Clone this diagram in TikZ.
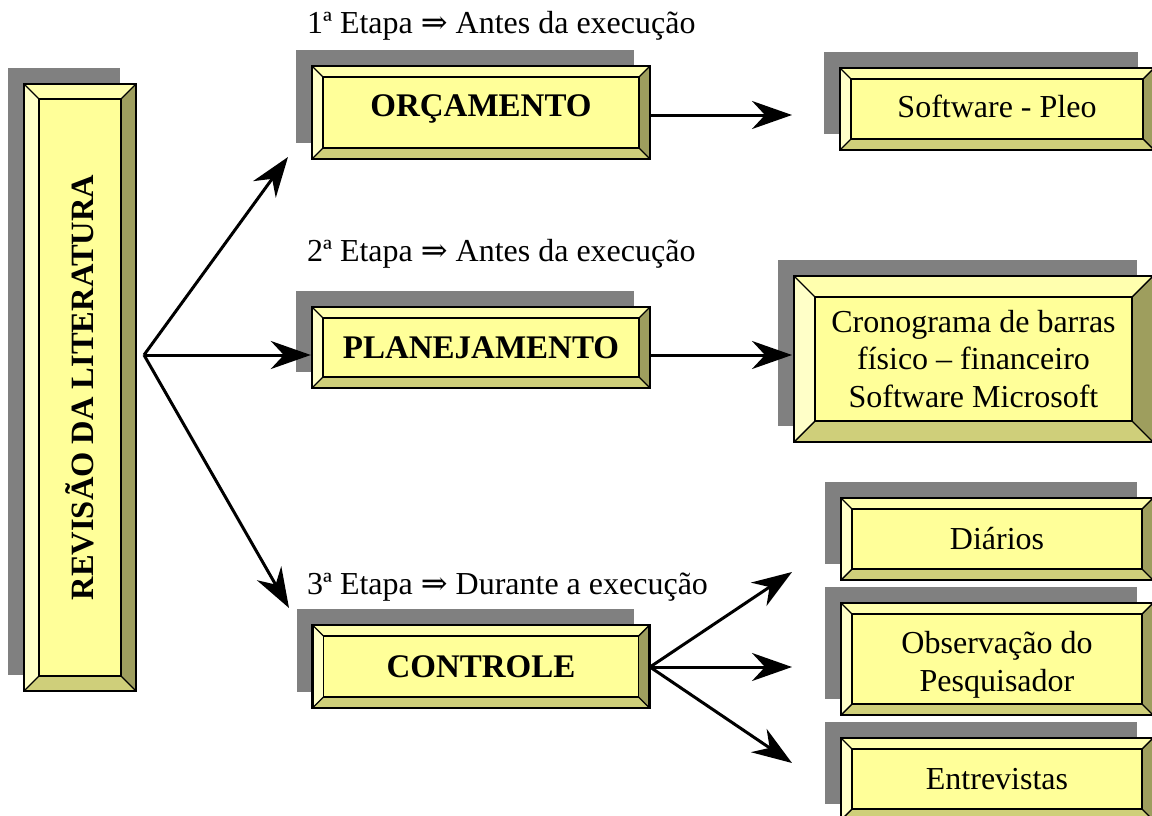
\documentclass[tikz,border=0pt]{standalone}
\usepackage{fontspec}
\setmainfont{Liberation Serif}
\newfontfamily\arrfont{DejaVu Serif}
\usetikzlibrary{arrows.meta,shadows}
\definecolor{cen}{HTML}{FFFF99}
\definecolor{bevtop}{HTML}{FFFFAE}
\definecolor{bevleft}{HTML}{FFFFC8}
\definecolor{bevright}{HTML}{9E9E5E}
\definecolor{bevbot}{HTML}{CFCF7A}
\definecolor{shgray}{HTML}{808080}
\newcommand{\imp}{{\arrfont ⇒}}
\newcommand{\shiftup}[2]{\raisebox{#1}[\height][\depth]{#2}}
\tikzset{
  bev/.style={draw=black, line width=2.4pt, fill=cen, inner sep=0pt, align=center,
    font=\fontsize{32}{37.5}\selectfont,
    drop shadow={shadow xshift=-16pt, shadow yshift=16pt, fill=shgray, opacity=1},
    path picture={
      \coordinate (A) at (path picture bounding box.north west);
      \coordinate (B) at (path picture bounding box.north east);
      \coordinate (C) at (path picture bounding box.south east);
      \coordinate (D) at (path picture bounding box.south west);
      \coordinate (a) at ([shift={(#1pt,-#1pt)}]path picture bounding box.north west);
      \coordinate (b) at ([shift={(-#1pt,-#1pt)}]path picture bounding box.north east);
      \coordinate (c) at ([shift={(-#1pt,#1pt)}]path picture bounding box.south east);
      \coordinate (d) at ([shift={(#1pt,#1pt)}]path picture bounding box.south west);
      \fill[bevtop] (A) -- (B) -- (b) -- (a) -- cycle;
      \fill[bevright] (B) -- (C) -- (c) -- (b) -- cycle;
      \fill[bevbot] (C) -- (D) -- (d) -- (c) -- cycle;
      \fill[bevleft] (D) -- (A) -- (a) -- (d) -- cycle;
      \draw[line width=1.4pt] (a) rectangle (c);
      \draw[line width=1.4pt] (A) -- (a) (B) -- (b) (C) -- (c) (D) -- (d);
    }},
  bold/.style={font=\fontsize{33}{38}\selectfont\bfseries},
  etapa/.style={anchor=base west, inner sep=0pt, font=\fontsize{32}{36}\selectfont},
  arr/.style={line width=3pt, -{Stealth[length=40pt, width=28pt, inset=13pt]}}
}
\begin{document}
\begin{tikzpicture}[x=1pt, y=-1pt]
\useasboundingbox (0,0) rectangle (1152,816);
\clip (0,0) rectangle (1152,816);

% left box
\node[bev=15, minimum width=112pt, minimum height=607pt] (rev) at (80,387.5)
  {\rotatebox{90}{\fontsize{32.5}{37}\selectfont\bfseries REVISÃO DA LITERATURA}};

% stage boxes
\node[bev=11, bold, minimum width=338pt, minimum height=93pt] (orc) at (481,112.5) {\shiftup{4pt}{ORÇAMENTO}};
\node[bev=11, bold, minimum width=338pt, minimum height=81pt] (plan) at (481,347.5) {PLANEJAMENTO};
\node[bev=11, bold, minimum width=337pt, minimum height=83pt] (ctrl) at (481,666.5) {CONTROLE};

% result boxes
\node[bev=11, minimum width=314pt, minimum height=82pt] (pleo) at (997,109) {\shiftup{3pt}{Software - Pleo}};
\node[bev=21, minimum width=359pt, minimum height=166pt] (crono) at (973.5,359)
  {\shiftup{-3pt}{\begin{tabular}{@{}c@{}}Cronograma de barras\\físico – financeiro\\Software Microsoft\end{tabular}}};
\node[bev=11, minimum width=312pt, minimum height=82pt] (diar) at (997,539) {Diários};
\node[bev=11, minimum width=312pt, minimum height=112pt] (obs) at (997,659)
  {\shiftup{-6pt}{\begin{tabular}{@{}c@{}}Observação do\\Pesquisador\end{tabular}}};
\node[bev=11, minimum width=312pt, minimum height=82pt] (entr) at (997,779) {Entrevistas};

% stage labels
\node[etapa] (e1) at (307,34) {1ª Etapa \imp{} Antes da execução};
\node[etapa] (e2) at (307,261) {2ª Etapa \imp{} Antes da execução};
\node[etapa] (e3) at (307,594) {3ª Etapa \imp{} Durante a execução};

% connectors
\coordinate (o) at (144,355);
\coordinate (t1) at (288,157);
\coordinate (t3) at (289,608);
\draw[arr] (o) -- (t1);
\draw[arr] (o) -- (plan.west |- o);
\draw[arr] (o) -- (t3);

\coordinate (q1) at (792,115);
\coordinate (q2) at (792,355);
\draw[arr] (orc.east |- q1) -- (q1);
\draw[arr] (plan.east |- q2) -- (q2);

\coordinate (c0) at (650,667);
\coordinate (r1) at (792,572);
\coordinate (r2) at (792,667);
\coordinate (r3) at (792,763);
\draw[arr] (c0) -- (r1);
\draw[arr] (c0) -- (r2);
\draw[arr] (c0) -- (r3);
\end{tikzpicture}
\end{document}
